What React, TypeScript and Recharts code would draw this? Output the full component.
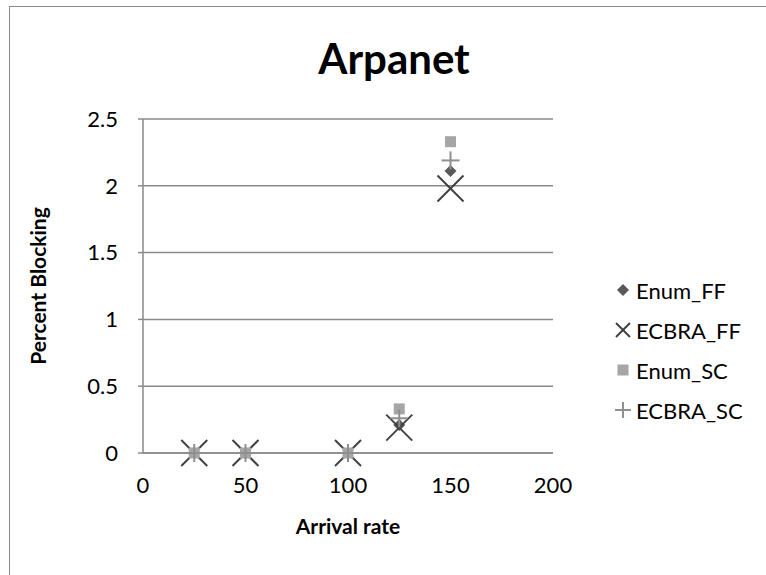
import React from "react";
import { ScatterChart, Scatter, XAxis, YAxis, CartesianGrid } from "recharts";

const arrivalRates = [25, 50, 100, 125, 150];
const enumFF = [0, 0, 0, 0.21, 2.11];
const ecbraFF = [0, 0, 0, 0.19, 1.98];
const enumSC = [0, 0, 0, 0.33, 2.33];
const ecbraSC = [0, 0, 0, 0.26, 2.19];
const xTicks = [0, 50, 100, 150, 200];
const yTicks = [0, 0.5, 1, 1.5, 2, 2.5];
const seriesNames = ["Enum_FF", "ECBRA_FF", "Enum_SC", "ECBRA_SC"];

const toPoints = (vals: number[]) => arrivalRates.map((x, i) => ({ x, y: vals[i] }));

const FONT = "Lato, Carlito, 'Liberation Sans', sans-serif";
const AXIS = "#8a8a8a";

const Diamond = ({ cx, cy, r = 6 }: any) => (
  <polygon points={`${cx},${cy - r} ${cx + r},${cy} ${cx},${cy + r} ${cx - r},${cy}`} fill="#595959" />
);
const Cross = ({ cx, cy, r = 13 }: any) => (
  <g stroke="#404040" strokeWidth={2}>
    <line x1={cx - r} y1={cy - r} x2={cx + r} y2={cy + r} />
    <line x1={cx - r} y1={cy + r} x2={cx + r} y2={cy - r} />
  </g>
);
const Square = ({ cx, cy, r = 5.5 }: any) => (
  <rect x={cx - r} y={cy - r} width={2 * r} height={2 * r} fill="#a6a6a6" />
);
const Plus = ({ cx, cy, r = 9 }: any) => (
  <g stroke="#8f8f8f" strokeWidth={2}>
    <line x1={cx - r} y1={cy} x2={cx + r} y2={cy} />
    <line x1={cx} y1={cy - r} x2={cx} y2={cy + r} />
  </g>
);

const legendIcons = [
  (c: number) => <Diamond cx={c} cy={c} r={6} />,
  (c: number) => <Cross cx={c} cy={c} r={7} />,
  (c: number) => <Square cx={c} cy={c} r={5.5} />,
  (c: number) => <Plus cx={c} cy={c} r={8} />,
];

const LegendBox = () => (
  <div style={{ position: "absolute", left: 614, top: 270, fontFamily: FONT, fontSize: 22, color: "#000" }}>
    {seriesNames.map((n, i) => (
      <div key={n} style={{ display: "flex", alignItems: "center", height: 40 }}>
        <svg width={18} height={18} style={{ marginRight: 4 }}>
          {legendIcons[i](9)}
        </svg>
        <span>{n}</span>
      </div>
    ))}
  </div>
);

export default function App() {
  return (
    <div style={{ position: "absolute", left: 0, top: 0, width: 766, height: 575, overflow: "hidden", background: "#fff" }}>
      <div
        style={{
          position: "absolute",
          left: 9,
          top: 6,
          width: 900,
          height: 700,
          borderTop: "1.5px solid #8a8a8a",
          borderLeft: "1.5px solid #8a8a8a",
        }}
      />
      <div style={{ position: "absolute", left: 0, top: 0 }}>
        <ScatterChart width={766} height={575} margin={{ top: 119, right: 213, bottom: 72, left: 83 }}>
          <CartesianGrid horizontal={true} vertical={false} stroke={AXIS} strokeWidth={1.5} />
          <XAxis
            type="number"
            dataKey="x"
            domain={[0, 200]}
            ticks={xTicks}
            height={50}
            tickLine={false}
            tickSize={0}
            tickMargin={24}
            axisLine={{ stroke: AXIS, strokeWidth: 1.5 }}
            tick={{ fill: "#000", fontSize: 22, fontFamily: FONT }}
            interval={0}
          />
          <YAxis
            type="number"
            dataKey="y"
            domain={[0, 2.5]}
            ticks={yTicks}
            width={60}
            tickSize={5}
            tickMargin={20}
            tickLine={{ stroke: AXIS, strokeWidth: 1.5 }}
            axisLine={{ stroke: AXIS, strokeWidth: 1.5 }}
            tick={{ fill: "#000", fontSize: 22, fontFamily: FONT }}
            interval={0}
          />
          <Scatter name={seriesNames[0]} data={toPoints(enumFF)} shape={(p: any) => <Diamond cx={p.cx} cy={p.cy} />} isAnimationActive={false} />
          <Scatter name={seriesNames[1]} data={toPoints(ecbraFF)} shape={(p: any) => <Cross cx={p.cx} cy={p.cy} />} isAnimationActive={false} />
          <Scatter name={seriesNames[2]} data={toPoints(enumSC)} shape={(p: any) => <Square cx={p.cx} cy={p.cy} />} isAnimationActive={false} />
          <Scatter name={seriesNames[3]} data={toPoints(ecbraSC)} shape={(p: any) => <Plus cx={p.cx} cy={p.cy} />} isAnimationActive={false} />
        </ScatterChart>
      </div>
      <div
        style={{
          position: "absolute",
          left: 0,
          width: 788,
          top: 31,
          textAlign: "center",
          fontFamily: FONT,
          fontWeight: "bold",
          fontSize: 42,
          lineHeight: "54px",
        }}
      >
        Arpanet
      </div>
      <div
        style={{
          position: "absolute",
          left: 37,
          top: 286,
          transform: "translate(-50%, -50%) rotate(-90deg)",
          fontFamily: FONT,
          fontWeight: "bold",
          fontSize: 21,
          whiteSpace: "nowrap",
        }}
      >
        Percent Blocking
      </div>
      <div
        style={{
          position: "absolute",
          left: 348,
          top: 525,
          transform: "translate(-50%, -50%)",
          fontFamily: FONT,
          fontWeight: "bold",
          fontSize: 21,
          whiteSpace: "nowrap",
        }}
      >
        Arrival rate
      </div>
      <LegendBox />
    </div>
  );
}
